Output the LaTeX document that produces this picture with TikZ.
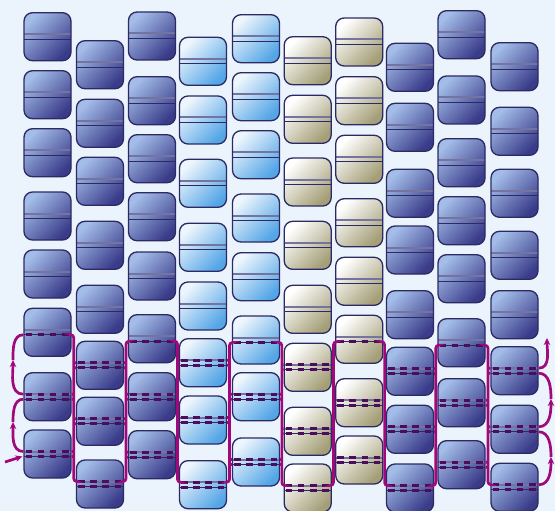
\documentclass[tikz,border=0pt]{standalone}
\usepackage{tikz}
\usetikzlibrary{arrows.meta, calc}

\definecolor{bgblue}{HTML}{EBF3FC}
\definecolor{cellline}{HTML}{2C2A63}
\definecolor{bandgray}{HTML}{7573A0}
\definecolor{dkA}{HTML}{A3BCE8}
\definecolor{dkB}{HTML}{3A3C8A}
\definecolor{ltA}{HTML}{EEF6FD}
\definecolor{ltB}{HTML}{55A6E6}
\definecolor{crA}{HTML}{FFFFFF}
\definecolor{crB}{HTML}{A59F78}
\definecolor{chaindash}{HTML}{4C0D5C}
\definecolor{strandpurple}{HTML}{A0087C}

\begin{document}
\begin{tikzpicture}[x=1pt, y=-1pt,
  plainlines/.style={path picture={
    \draw[bandgray, line width=2pt] ([yshift=2.5pt]path picture bounding box.west) -- ([yshift=2.5pt]path picture bounding box.east);
    \draw[cellline, line width=1.3pt] ([yshift=-2.5pt]path picture bounding box.west) -- ([yshift=-2.5pt]path picture bounding box.east);}},
  onedash/.style={path picture={
    \draw[bandgray, line width=2pt] ([yshift=2.5pt]path picture bounding box.west) -- ([yshift=2.5pt]path picture bounding box.east);
    \draw[cellline, line width=1.3pt] ([yshift=-2.5pt]path picture bounding box.west) -- ([yshift=-2.5pt]path picture bounding box.east);
    \draw[dashline] ([xshift=1.5pt, yshift=-2.5pt]path picture bounding box.west) -- ([xshift=-1.5pt, yshift=-2.5pt]path picture bounding box.east);}},
  twodash/.style={path picture={
    \draw[bandgray, line width=2pt] ([yshift=2.5pt]path picture bounding box.west) -- ([yshift=2.5pt]path picture bounding box.east);
    \draw[cellline, line width=1.3pt] ([yshift=-2.5pt]path picture bounding box.west) -- ([yshift=-2.5pt]path picture bounding box.east);
    \draw[dashline] ([xshift=1.5pt, yshift=2.5pt]path picture bounding box.west) -- ([xshift=-1.5pt, yshift=2.5pt]path picture bounding box.east);
    \draw[dashline] ([xshift=1.5pt, yshift=-2.5pt]path picture bounding box.west) -- ([xshift=-1.5pt, yshift=-2.5pt]path picture bounding box.east);}},
  dashline/.style={draw=chaindash, line width=2.7pt, dash pattern=on 6.5pt off 5.7pt},
  cell/.style={draw=cellline, line width=1.3pt, rounded corners=8.5pt, inner sep=0pt,
    minimum width=47pt, minimum height=48pt, plainlines},
  dkcell/.style={cell, top color=dkA, bottom color=dkB, shading angle=45},
  ltcell/.style={cell, top color=ltA, bottom color=ltB, shading angle=45},
  crcell/.style={cell, top color=crA, bottom color=crB, shading angle=45},
  strand/.style={draw=strandpurple, line width=2.7pt, rounded corners=3pt},
  tip/.style={-{Stealth[length=7pt, width=6.5pt]}}]
  \useasboundingbox (0,0) rectangle (555,511);
  \fill[bgblue] (0,0) rectangle (555,511);

  \node[dkcell] (a1) at (47.5,36.7) {};
  \node[dkcell] (a2) at (47.5,94.7) {};
  \node[dkcell] (a3) at (47.5,152.7) {};
  \node[dkcell] (a4) at (47.5,216) {};
  \node[dkcell] (a5) at (47.5,274) {};
  \node[dkcell, onedash] (a6) at (47.5,332.3) {};
  \node[dkcell, twodash] (a7) at (47.5,396.7) {};
  \node[dkcell, twodash] (a8) at (47.5,454) {};

  \node[dkcell] (b1) at (100,64.7) {};
  \node[dkcell] (b2) at (100,123.3) {};
  \node[dkcell] (b3) at (100,181.3) {};
  \node[dkcell] (b4) at (100,245.3) {};
  \node[dkcell] (b5) at (100,309.3) {};
  \node[dkcell, twodash] (b6) at (100,365.3) {};
  \node[dkcell, twodash] (b7) at (100,421.3) {};
  \node[dkcell, twodash] (b8) at (100,484) {};

  \node[dkcell] (c1) at (152,36) {};
  \node[dkcell] (c2) at (152,100.7) {};
  \node[dkcell] (c3) at (152,158.7) {};
  \node[dkcell] (c4) at (152,216.7) {};
  \node[dkcell] (c5) at (152,276) {};
  \node[dkcell, onedash] (c6) at (152,338.7) {};
  \node[dkcell, twodash] (c7) at (152,396.7) {};
  \node[dkcell, twodash] (c8) at (152,454.7) {};

  \node[ltcell] (d1) at (203,61.3) {};
  \node[ltcell] (d2) at (203,120) {};
  \node[ltcell] (d3) at (203,183.3) {};
  \node[ltcell] (d4) at (203,247.3) {};
  \node[ltcell] (d5) at (203,306) {};
  \node[ltcell, twodash] (d6) at (203,362.7) {};
  \node[ltcell, twodash] (d7) at (203,420) {};
  \node[ltcell, twodash] (d8) at (203,484.7) {};

  \node[ltcell] (e1) at (256,38.7) {};
  \node[ltcell] (e2) at (256,96.7) {};
  \node[ltcell] (e3) at (256,154.7) {};
  \node[ltcell] (e4) at (256,218) {};
  \node[ltcell] (e5) at (256,276.7) {};
  \node[ltcell, onedash] (e6) at (256,340) {};
  \node[ltcell, twodash] (e7) at (256,396.7) {};
  \node[ltcell, twodash] (e8) at (256,462) {};

  \node[crcell] (f1) at (307.7,60.7) {};
  \node[crcell] (f2) at (307.7,119.3) {};
  \node[crcell] (f3) at (307.7,182) {};
  \node[crcell] (f4) at (307.7,245.3) {};
  \node[crcell] (f5) at (307.7,309.3) {};
  \node[crcell, twodash] (f6) at (307.7,367.3) {};
  \node[crcell, twodash] (f7) at (307.7,431.3) {};
  \node[crcell, twodash] (f8) at (307.7,488) {};

  \node[crcell] (g1) at (359.2,42) {};
  \node[crcell] (g2) at (359.2,100.7) {};
  \node[crcell] (g3) at (359.2,159.3) {};
  \node[crcell] (g4) at (359.2,222.7) {};
  \node[crcell] (g5) at (359.2,281.3) {};
  \node[crcell, onedash] (g6) at (359.2,339.3) {};
  \node[crcell, twodash] (g7) at (359.2,402.7) {};
  \node[crcell, twodash] (g8) at (359.2,460) {};

  \node[dkcell] (h1) at (410,67.3) {};
  \node[dkcell] (h2) at (410,127.3) {};
  \node[dkcell] (h3) at (410,193.3) {};
  \node[dkcell] (h4) at (410,250) {};
  \node[dkcell] (h5) at (410,314.7) {};
  \node[dkcell, twodash] (h6) at (410,371.3) {};
  \node[dkcell, twodash] (h7) at (410,429.3) {};
  \node[dkcell, twodash] (h8) at (410,488) {};

  \node[dkcell] (i1) at (461.5,34.7) {};
  \node[dkcell] (i2) at (461.5,100) {};
  \node[dkcell] (i3) at (461.5,162.7) {};
  \node[dkcell] (i4) at (461.5,220.7) {};
  \node[dkcell] (i5) at (461.5,278.7) {};
  \node[dkcell, onedash] (i6) at (461.5,342.7) {};
  \node[dkcell, twodash] (i7) at (461.5,402.7) {};
  \node[dkcell, twodash] (i8) at (461.5,464.7) {};

  \node[dkcell] (j1) at (514.5,66.7) {};
  \node[dkcell] (j2) at (514.5,131.3) {};
  \node[dkcell] (j3) at (514.5,193.3) {};
  \node[dkcell] (j4) at (514.5,255.3) {};
  \node[dkcell] (j5) at (514.5,314.7) {};
  \node[dkcell, twodash] (j6) at (514.5,370.7) {};
  \node[dkcell, twodash] (j7) at (514.5,429.3) {};
  \node[dkcell, twodash] (j8) at (514.5,487.3) {};

  \draw[strand] ([yshift=-2.5pt]a6.east) -| ($(a7.east)!.5!(b7.west)$) |- ([yshift=2.5pt]b8.west)
    ([yshift=2.5pt]a7.east) -- ++(2,0) ([yshift=-2.5pt]a7.east) -- ++(2,0)
    ([yshift=2.5pt]a8.east) -- ++(2,0) ([yshift=-2.5pt]a8.east) -- ++(2,0)
    ([yshift=2.5pt]b6.west) -- ++(-2,0) ([yshift=-2.5pt]b6.west) -- ++(-2,0)
    ([yshift=2.5pt]b7.west) -- ++(-2,0) ([yshift=-2.5pt]b7.west) -- ++(-2,0);
  \draw[strand] ([yshift=-2.5pt]c6.west) -| ($(b7.east)!.5!(c7.west)$) |- ([yshift=2.5pt]b8.east)
    ([yshift=2.5pt]b6.east) -- ++(2,0) ([yshift=-2.5pt]b6.east) -- ++(2,0)
    ([yshift=2.5pt]b7.east) -- ++(2,0) ([yshift=-2.5pt]b7.east) -- ++(2,0)
    ([yshift=2.5pt]c7.west) -- ++(-2,0) ([yshift=-2.5pt]c7.west) -- ++(-2,0)
    ([yshift=2.5pt]c8.west) -- ++(-2,0) ([yshift=-2.5pt]c8.west) -- ++(-2,0);
  \draw[strand] ([yshift=-2.5pt]c6.east) -| ($(c7.east)!.5!(d7.west)$) |- ([yshift=2.5pt]d8.west)
    ([yshift=2.5pt]c7.east) -- ++(1.5,0) ([yshift=-2.5pt]c7.east) -- ++(1.5,0)
    ([yshift=2.5pt]c8.east) -- ++(1.5,0) ([yshift=-2.5pt]c8.east) -- ++(1.5,0)
    ([yshift=2.5pt]d6.west) -- ++(-1.5,0) ([yshift=-2.5pt]d6.west) -- ++(-1.5,0)
    ([yshift=2.5pt]d7.west) -- ++(-1.5,0) ([yshift=-2.5pt]d7.west) -- ++(-1.5,0);
  \draw[strand] ([yshift=-2.5pt]e6.west) -| ($(d7.east)!.5!(e7.west)$) |- ([yshift=2.5pt]d8.east)
    ([yshift=2.5pt]d6.east) -- ++(2.5,0) ([yshift=-2.5pt]d6.east) -- ++(2.5,0)
    ([yshift=2.5pt]d7.east) -- ++(2.5,0) ([yshift=-2.5pt]d7.east) -- ++(2.5,0)
    ([yshift=2.5pt]e7.west) -- ++(-2.5,0) ([yshift=-2.5pt]e7.west) -- ++(-2.5,0)
    ([yshift=2.5pt]e8.west) -- ++(-2.5,0) ([yshift=-2.5pt]e8.west) -- ++(-2.5,0);
  \draw[strand] ([yshift=-2.5pt]e6.east) -| ($(e7.east)!.5!(f7.west)$) |- ([yshift=2.5pt]f8.west)
    ([yshift=2.5pt]e7.east) -- ++(2,0) ([yshift=-2.5pt]e7.east) -- ++(2,0)
    ([yshift=2.5pt]e8.east) -- ++(2,0) ([yshift=-2.5pt]e8.east) -- ++(2,0)
    ([yshift=2.5pt]f6.west) -- ++(-2,0) ([yshift=-2.5pt]f6.west) -- ++(-2,0)
    ([yshift=2.5pt]f7.west) -- ++(-2,0) ([yshift=-2.5pt]f7.west) -- ++(-2,0);
  \draw[strand] ([yshift=-2.5pt]g6.west) -| ($(f7.east)!.5!(g7.west)$) |- ([yshift=2.5pt]f8.east)
    ([yshift=2.5pt]f6.east) -- ++(2,0) ([yshift=-2.5pt]f6.east) -- ++(2,0)
    ([yshift=2.5pt]f7.east) -- ++(2,0) ([yshift=-2.5pt]f7.east) -- ++(2,0)
    ([yshift=2.5pt]g7.west) -- ++(-2,0) ([yshift=-2.5pt]g7.west) -- ++(-2,0)
    ([yshift=2.5pt]g8.west) -- ++(-2,0) ([yshift=-2.5pt]g8.west) -- ++(-2,0);
  \draw[strand] ([yshift=-2.5pt]g6.east) -| ($(g7.east)!.5!(h7.west)$) |- ([yshift=2.5pt]h8.west)
    ([yshift=2.5pt]g7.east) -- ++(1.5,0) ([yshift=-2.5pt]g7.east) -- ++(1.5,0)
    ([yshift=2.5pt]g8.east) -- ++(1.5,0) ([yshift=-2.5pt]g8.east) -- ++(1.5,0)
    ([yshift=2.5pt]h6.west) -- ++(-1.5,0) ([yshift=-2.5pt]h6.west) -- ++(-1.5,0)
    ([yshift=2.5pt]h7.west) -- ++(-1.5,0) ([yshift=-2.5pt]h7.west) -- ++(-1.5,0);
  \draw[strand] ([yshift=-2.5pt]i6.west) -| ($(h7.east)!.5!(i7.west)$) |- ([yshift=2.5pt]h8.east)
    ([yshift=2.5pt]h6.east) -- ++(2,0) ([yshift=-2.5pt]h6.east) -- ++(2,0)
    ([yshift=2.5pt]h7.east) -- ++(2,0) ([yshift=-2.5pt]h7.east) -- ++(2,0)
    ([yshift=2.5pt]i7.west) -- ++(-2,0) ([yshift=-2.5pt]i7.west) -- ++(-2,0)
    ([yshift=2.5pt]i8.west) -- ++(-2,0) ([yshift=-2.5pt]i8.west) -- ++(-2,0);
  \draw[strand] ([yshift=-2.5pt]i6.east) -| ($(i7.east)!.5!(j7.west)$) |- ([yshift=2.5pt]j8.west)
    ([yshift=2.5pt]i7.east) -- ++(2.5,0) ([yshift=-2.5pt]i7.east) -- ++(2.5,0)
    ([yshift=2.5pt]i8.east) -- ++(2.5,0) ([yshift=-2.5pt]i8.east) -- ++(2.5,0)
    ([yshift=2.5pt]j6.west) -- ++(-2.5,0) ([yshift=-2.5pt]j6.west) -- ++(-2.5,0)
    ([yshift=2.5pt]j7.west) -- ++(-2.5,0) ([yshift=-2.5pt]j7.west) -- ++(-2.5,0);

  \coordinate (entry) at (5,462);
  \coordinate (lturn1) at (13,422);
  \coordinate (lturn2) at (13,360);
  \coordinate (rturn1) at (551,457);
  \coordinate (rturn2) at (551,399);
  \coordinate (exit) at (547,338);

  \draw[strand, tip] (entry) -- ([xshift=-1pt, yshift=-2.5pt]a8.west);
  \draw[strand, tip] ([yshift=2.5pt]a8.west) to[out=180, in=-90] (lturn1);
  \draw[strand] (lturn1) to[out=90, in=180] ([yshift=-2.5pt]a7.west);
  \draw[strand, tip] ([yshift=2.5pt]a7.west) to[out=180, in=-90] (lturn2);
  \draw[strand] (lturn2) to[out=90, in=180] ([yshift=-2.5pt]a6.west);

  \draw[strand, tip] ([yshift=2.5pt]j8.east) to[out=0, in=-90] (rturn1);
  \draw[strand] (rturn1) to[out=90, in=0] ([yshift=-2.5pt]j7.east);
  \draw[strand, tip] ([yshift=2.5pt]j7.east) to[out=0, in=-90] (rturn2);
  \draw[strand] (rturn2) to[out=90, in=0] ([yshift=-2.5pt]j6.east);
  \draw[strand, tip] ([yshift=2.5pt]j6.east) to[out=0, in=-90] (exit);
\end{tikzpicture}
\end{document}
